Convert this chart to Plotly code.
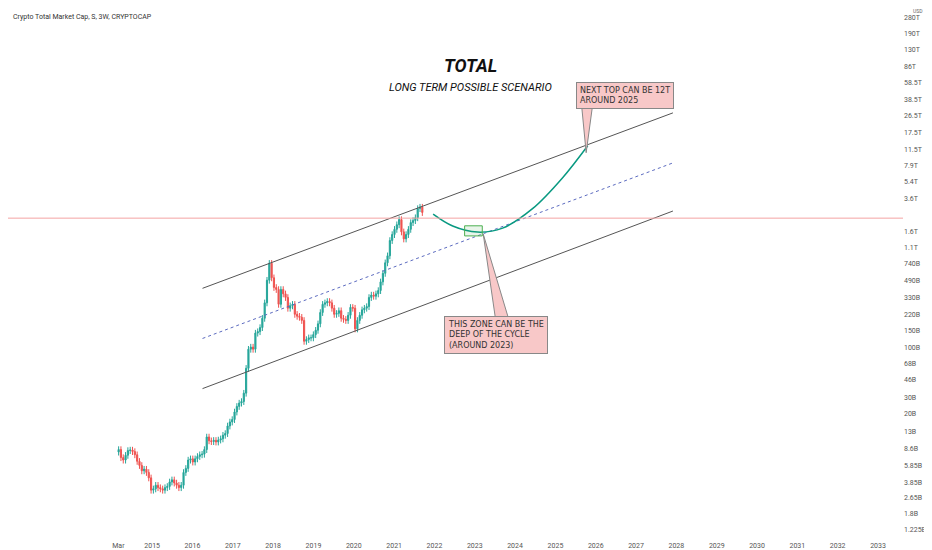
import pandas as pd
import plotly.graph_objects as go

# 3-week candle closes (billions USD), starting Mar 2014
closes = [
    8.5, 7.0, 6.6, 7.4, 8.3, 8.4, 8.1, 7.5, 6.4, 5.8, 5.1, 5.3, 4.9, 4.3,
    3.2, 3.3, 3.6, 3.4, 3.3, 3.2, 3.4, 3.5, 3.9, 4.1, 3.8, 3.6, 3.4, 3.6, 4.9, 5.4, 6.6,
    6.8, 6.3, 6.8, 7.2, 7.5, 7.6, 8.5, 11.5, 10.5, 10.3, 10.6, 10.2, 10.7, 11.0, 12.0, 12.5, 15.0,
    16.5, 17.5, 21, 24, 26, 27, 33, 60, 95, 100, 95, 140, 145, 160, 200, 290, 500,
    750, 530, 420, 400, 280, 400, 360, 330, 255, 270, 280, 220, 210, 205, 190, 115, 120,
    125, 125, 135, 150, 175, 230, 280, 290, 300, 290, 255, 220, 225, 240, 200, 195, 190,
    215, 260, 255, 155, 190, 215, 245, 255, 265, 330, 350, 340, 360, 390, 480, 590, 760,
    900, 1300, 1500, 1700, 1900, 2150, 1600, 1350, 1500, 1700, 2000, 2100, 2250, 2800, 2900, 2550,
]
first_open = 8.0
dates = pd.date_range("2014-03-03", periods=len(closes), freq="21D")

# channel lines (start, end) in USD
channel_x = ["2016-04-01", "2027-12-01"]
upper = [411e9, 28e12]
middle = [123e9, 8.4e12]
lower = [36.8e9, 2.64e12]

# projected path
path_x = ["2021-12-20", "2022-06-15", "2023-01-25", "2023-09-10", "2024-06-10", "2025-03-05", "2025-10-20"]
path_y = [2.45e12, 1.84e12, 1.59e12, 1.75e12, 2.81e12, 5.85e12, 12.7e12]

tick_vals = [280e12, 190e12, 130e12, 86e12, 58.5e12, 38.5e12, 26.5e12, 17.5e12, 11.5e12,
             7.9e12, 5.4e12, 3.6e12, 1.6e12, 1.1e12, 740e9, 490e9, 330e9, 220e9, 150e9, 100e9,
             68e9, 46e9, 30e9, 20e9, 13e9, 8.6e9, 5.85e9, 3.85e9, 2.65e9, 1.8e9, 1.225e9]
tick_text = ["280T", "190T", "130T", "86T", "58.5T", "38.5T", "26.5T", "17.5T", "11.5T",
             "7.9T", "5.4T", "3.6T", "1.6T", "1.1T", "740B", "490B", "330B", "220B", "150B", "100B",
             "68B", "46B", "30B", "20B", "13B", "8.6B", "5.85B", "3.85B", "2.65B", "1.8B", "1.225B"]
year_ticks = ["2014-03-01"] + [f"{y}-01-01" for y in range(2015, 2034)]
year_text = ["Mar"] + [str(y) for y in range(2015, 2034)]

c = [v * 1e9 for v in closes]
o = [first_open * 1e9] + c[:-1]
h = [max(a, b) * 1.08 for a, b in zip(o, c)]
l = [min(a, b) * 0.92 for a, b in zip(o, c)]

fig = go.Figure()
fig.add_trace(go.Candlestick(x=dates, open=o, high=h, low=l, close=c,
                             increasing=dict(line=dict(color="#26a69a", width=1), fillcolor="#26a69a"),
                             decreasing=dict(line=dict(color="#ef5350", width=1), fillcolor="#ef5350"),
                             whiskerwidth=0, showlegend=False))
for ys, dash, col in [(upper, "solid", "#555"), (middle, "dot", "#5c6bc0"), (lower, "solid", "#555")]:
    fig.add_trace(go.Scatter(x=channel_x, y=ys, mode="lines", showlegend=False,
                             line=dict(color=col, width=1, dash=dash)))
fig.add_trace(go.Scatter(x=path_x, y=path_y, mode="lines", line=dict(color="#089981", width=1.5, shape="spline"),
                         showlegend=False))
fig.add_annotation(x=path_x[-1], y=path_y[-1], ax="2025-06-20", ay=9.2e12, axref="x", ayref="y",
                   xref="x", yref="y", text="", showarrow=True, arrowhead=2, arrowcolor="#089981", arrowwidth=1.5)

fig.add_hline(y=2.224e12, line=dict(color="#f4a3a3", width=1))
fig.add_shape(type="rect", x0="2022-10-01", x1="2023-03-10", y0=1.45e12, y1=1.85e12,
              line=dict(color="#4caf50", width=1), fillcolor="rgba(76,175,80,0.12)")

fig.add_shape(type="path", xref="paper", yref="paper",
              path="M 0.646 0.728 L 0.641 0.815 L 0.653 0.815 Z",
              line=dict(color="#888", width=1), fillcolor="#f8c8c8")
fig.add_annotation(x="2026-09-25", y=0.835, yref="paper", text="NEXT TOP CAN BE 12T<br>AROUND 2025", showarrow=False,
                   font=dict(size=8, color="#333", family="DejaVu Sans"), align="left", bgcolor="#f8c8c8",
                   bordercolor="#888", borderwidth=1, borderpad=3, yanchor="middle")
fig.add_shape(type="path", xref="paper", yref="paper",
              path="M 0.531 0.575 L 0.545 0.412 L 0.560 0.412 Z",
              line=dict(color="#888", width=1), fillcolor="#f8c8c8")
fig.add_annotation(x="2023-07-15", y=0.385, yref="paper", text="THIS ZONE CAN BE THE<br>DEEP OF THE CYCLE<br>(AROUND 2023)",
                   showarrow=False, font=dict(size=8, color="#333", family="DejaVu Sans"), align="left",
                   bgcolor="#f8c8c8", bordercolor="#888", borderwidth=1, borderpad=3)

fig.add_annotation(xref="paper", yref="paper", x=0.517, y=0.915, text="<b><i>TOTAL</i></b>", showarrow=False,
                   font=dict(size=18, color="#111"))
fig.add_annotation(xref="paper", yref="paper", x=0.517, y=0.867, text="<i>LONG TERM POSSIBLE SCENARIO</i>",
                   showarrow=False, font=dict(size=11, color="#111"))
fig.add_annotation(xref="paper", yref="paper", x=0.003, y=0.995, xanchor="left", yanchor="top",
                   text="Crypto Total Market Cap, S, 3W, CRYPTOCAP", showarrow=False, font=dict(size=7, color="#333"))
fig.add_annotation(xref="paper", yref="y", x=1.003, y=2.224e12, xanchor="left", text="2.224T<br>20D 20h",
                   showarrow=False, bgcolor="#ef5350", font=dict(size=6, color="white"), borderpad=1)
fig.add_annotation(xref="paper", yref="paper", x=1.01, y=1.0, xanchor="left", yanchor="top", text="USD",
                   showarrow=False, font=dict(size=5, color="#666"), borderpad=0, yshift=1)

fig.update_layout(
    width=932, height=550, margin=dict(l=0, r=37, t=0, b=18),
    plot_bgcolor="white", paper_bgcolor="white", font=dict(family="Roboto", size=7, color="#555"),
    xaxis=dict(type="date", range=["2011-06-05", "2033-08-15"], tickvals=year_ticks, ticktext=year_text,
               showgrid=False, rangeslider=dict(visible=False), zeroline=False, ticks=""),
    yaxis=dict(type="log", side="right", range=[8.984, 14.543], tickvals=tick_vals, ticktext=tick_text,
               showgrid=False, zeroline=False, ticks=""),
)
fig.write_html("out.html")
